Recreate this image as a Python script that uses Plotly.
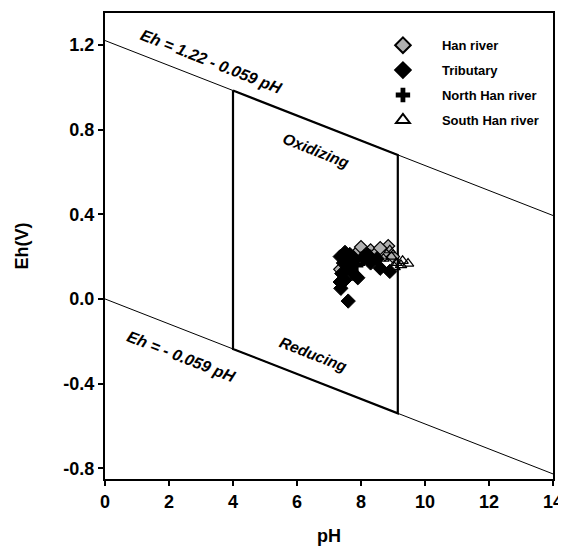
import plotly.graph_objects as go

# Boundary lines (water stability limits)
boundary_ph = [0, 14]
upper_eh = [1.22, 0.394]
lower_eh = [0.0, -0.826]
box_ph = [4.0, 9.15]
box_upper_eh = [0.984, 0.680]
box_lower_eh = [-0.236, -0.540]

# Samples
han_ph = [7.35, 7.55, 7.95, 8.0, 8.3, 8.5, 8.85, 8.75, 8.15, 9.0, 8.6]
han_eh = [0.14, 0.2, 0.23, 0.245, 0.23, 0.22, 0.25, 0.21, 0.21, 0.2, 0.24]
trib_ph = [7.35, 7.45, 7.4, 7.35, 7.37, 7.5, 7.6, 7.6, 7.75, 7.9, 7.5, 7.65, 7.8, 8.1, 8.3, 8.6, 8.5, 7.7, 8.2, 8.9]
trib_eh = [0.2, 0.17, 0.12, 0.08, 0.05, 0.09, -0.01, 0.15, 0.12, 0.1, 0.22, 0.21, 0.18, 0.2, 0.17, 0.145, 0.19, 0.2, 0.21, 0.13]
north_ph = [7.5, 7.7, 7.85, 8.05, 8.25]
north_eh = [0.19, 0.17, 0.16, 0.19, 0.2]
south_ph = [8.7, 8.95, 9.1, 9.25, 9.47, 8.9, 9.3, 9.05]
south_eh = [0.19, 0.2, 0.17, 0.16, 0.167, 0.23, 0.18, 0.15]

legend_names = ["Han river", "Tributary", "North Han river", "South Han river"]
x_ticks = [0, 2, 4, 6, 8, 10, 12, 14]
y_ticks = [-0.8, -0.4, 0.0, 0.4, 0.8, 1.2]

FONT = "Liberation Sans, Arial, sans-serif"
fig = go.Figure()

fig.add_trace(go.Scatter(x=boundary_ph, y=upper_eh, mode="lines",
                         line=dict(color="black", width=1), showlegend=False))
fig.add_trace(go.Scatter(x=boundary_ph, y=lower_eh, mode="lines",
                         line=dict(color="black", width=1), showlegend=False))
fig.add_trace(go.Scatter(x=[box_ph[0], box_ph[1], box_ph[1], box_ph[0], box_ph[0]],
                         y=[box_upper_eh[0], box_upper_eh[1], box_lower_eh[1], box_lower_eh[0], box_upper_eh[0]],
                         mode="lines", line=dict(color="black", width=2.2), showlegend=False))

fig.add_trace(go.Scatter(x=han_ph, y=han_eh, mode="markers", name=legend_names[0], legendgroup="a",
                         marker=dict(symbol="diamond", size=10, color="#b0b0b0",
                                     line=dict(color="black", width=1.2))))
fig.add_trace(go.Scatter(x=trib_ph, y=trib_eh, mode="markers", name=legend_names[1], legendgroup="b",
                         marker=dict(symbol="diamond", size=11, color="black",
                                     line=dict(color="black", width=1))))
fig.add_trace(go.Scatter(x=north_ph, y=north_eh, mode="markers", name=legend_names[2], legendgroup="c",
                         marker=dict(symbol="cross", size=12, color="black",
                                     line=dict(color="black", width=0))))
fig.add_trace(go.Scatter(x=south_ph, y=south_eh, mode="markers", name=legend_names[3], legendgroup="d",
                         marker=dict(symbol="triangle-up-open", size=10, color="black",
                                     line=dict(width=1.2))))

eq_font = dict(family=FONT, size=16, color="black")
lab_font = dict(family=FONT, size=15.5, color="black")
fig.add_annotation(x=3.31, y=1.12, text="<b><i>Eh = 1.22 - 0.059 pH</i></b>", showarrow=False,
                   textangle=21.5, font=eq_font)
fig.add_annotation(x=6.59, y=0.70, text="<b><i>Oxidizing</i></b>", showarrow=False,
                   textangle=21.5, font=lab_font)
fig.add_annotation(x=6.53, y=-0.26, text="<b><i>Reducing</i></b>", showarrow=False,
                   textangle=21.5, font=lab_font)
fig.add_annotation(x=2.38, y=-0.27, text="<b><i>Eh = - 0.059 pH</i></b>", showarrow=False,
                   textangle=21.5, font=eq_font)

fig.update_layout(
    width=558, height=540,
    margin=dict(l=97, r=13, t=3, b=69),
    plot_bgcolor="white", paper_bgcolor="white",
    font=dict(family=FONT, color="black"),
    legend=dict(x=0.578, y=0.963, xanchor="left", yanchor="top",
                bgcolor="rgba(0,0,0,0)", font=dict(family=FONT, size=13, weight="bold"),
                tracegroupgap=5, itemwidth=68, itemsizing="constant"),
    xaxis=dict(range=[0, 14], tickvals=x_ticks,
               ticktext=["<b>%d</b>" % v for v in x_ticks],
               ticks="outside", ticklen=5, tickwidth=1.5, tickcolor="black",
               ticklabeloverflow="allow",
               showline=True, linecolor="black", linewidth=2, mirror=True,
               showgrid=False, zeroline=False,
               tickfont=dict(size=18, family=FONT),
               title=dict(text="<b>pH</b>", font=dict(size=18, family=FONT), standoff=19)),
    yaxis=dict(range=[-0.85, 1.35], tickvals=y_ticks,
               ticktext=["<b>%.1f</b>" % v for v in y_ticks],
               ticks="outside", ticklen=5, tickwidth=1.5, tickcolor="black",
               showline=True, linecolor="black", linewidth=2, mirror=True,
               showgrid=False, zeroline=False,
               tickfont=dict(size=18, family=FONT),
               title=dict(text="<b>Eh(V)</b>", font=dict(size=18, family=FONT), standoff=30)),
)

fig.write_html("out.html", config={"displayModeBar": False})
